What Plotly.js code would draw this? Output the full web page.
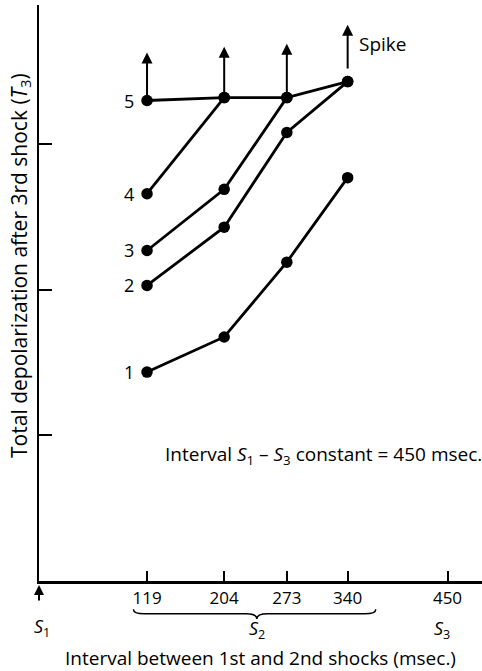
<!DOCTYPE html>
<html>
<head>
<meta charset="utf-8">
<script src="https://cdn.plot.ly/plotly-3.0.1.min.js"></script>
<style>html,body{margin:0;padding:0;background:#fff;}#chart{width:482px;height:671px;}</style>
</head>
<body>
<div id="chart"></div>
<script>
// Intervals between 1st and 2nd shocks (msec.)
const intervals = [119, 204, 273, 340];
const tickValues = [119, 204, 273, 340, 450];
const tickLabels = ["119", "204", "273", "340", "450"];
// Total depolarization after 3rd shock (T3), arbitrary units, for 5 stimulus strengths
const curve1 = [1.435, 1.676, 2.19, 2.77];
const curve2 = [2.03, 2.43, 3.08, 3.43];
const curve3 = [2.27, 2.69, 3.32];
const curve4 = [2.66, 3.32];
const curve5 = [3.30, 3.32, 3.32, 3.43];
const curveNames = ["1", "2", "3", "4", "5"];
// Spike arrows above curve 5
const spikeX = [119, 204, 273, 340];
const spikeBase = [3.30, 3.32, 3.32, 3.51];
const spikeTop = [3.63, 3.67, 3.69, 3.82];

const FONT = "Open Sans";
const curves = [curve1, curve2, curve3, curve4, curve5];
const traces = curves.map((c, i) => ({
  x: intervals.slice(0, c.length),
  y: c,
  name: curveNames[i],
  mode: "lines+markers",
  type: "scatter",
  line: {color: "#000", width: 2.8},
  marker: {color: "#000", size: 11.5},
  showlegend: false,
  hoverinfo: "x+y"
}));

const annotations = [];
curves.forEach((c, i) => {
  annotations.push({
    x: intervals[0], y: c[0], xref: "x", yref: "y",
    text: curveNames[i], showarrow: false,
    xanchor: "right", yanchor: "middle", xshift: -11,
    font: {family: FONT, size: 18, color: "#000"}
  });
});
spikeX.forEach((sx, i) => {
  annotations.push({
    x: sx, y: spikeTop[i], xref: "x", yref: "y",
    ax: sx, ay: spikeBase[i], axref: "x", ayref: "y",
    text: "", showarrow: true, arrowhead: 2, arrowsize: 1.1, arrowwidth: 2,
    arrowcolor: "#000", standoff: 0, startstandoff: 0
  });
});
annotations.push({
  x: 340, y: 3.69, xref: "x", yref: "y", text: "Spike", showarrow: false,
  xanchor: "left", yanchor: "middle", xshift: 9,
  font: {family: FONT, size: 19, color: "#000"}
});
annotations.push({
  x: 136.6, y: 0.219, xref: "x", yref: "paper",
  text: "Interval <i>S</i><sub>1</sub> – <i>S</i><sub>3</sub> constant = 450 msec.",
  showarrow: false, xanchor: "left", yanchor: "middle",
  font: {family: FONT, size: 19, color: "#000"}
});
// S1 arrow and labels under the axis
annotations.push({
  x: 0, y: -0.007, xref: "x", yref: "paper", ax: 0, ay: 17,
  text: "", showarrow: true, arrowhead: 2, arrowsize: 1, arrowwidth: 2, arrowcolor: "#000"
});
annotations.push({
  x: 0, y: -0.081, xref: "x", yref: "paper", xshift: 3,
  text: "<i>S</i><sub>1</sub>", showarrow: false, xanchor: "center", yanchor: "middle",
  font: {family: FONT, size: 18, color: "#000"}
});
annotations.push({
  x: 240, y: -0.084, xref: "x", yref: "paper",
  text: "<i>S</i><sub>2</sub>", showarrow: false, xanchor: "center", yanchor: "middle",
  font: {family: FONT, size: 18, color: "#000"}
});
annotations.push({
  x: 450, y: -0.084, xref: "x", yref: "paper", xshift: -6,
  text: "<i>S</i><sub>3</sub>", showarrow: false, xanchor: "center", yanchor: "middle",
  font: {family: FONT, size: 18, color: "#000"}
});
// Y axis title
annotations.push({
  x: -0.043, y: 0.5486, xref: "paper", yref: "paper",
  text: "Total depolarization after 3rd shock (<i>T</i><sub>3</sub>)",
  textangle: -90, showarrow: false, xanchor: "center", yanchor: "middle",
  font: {family: FONT, size: 21, color: "#000"}
});

const layout = {
  width: 482, height: 671,
  margin: {l: 39, r: 0, t: 5, b: 90},
  paper_bgcolor: "#fff", plot_bgcolor: "#fff",
  font: {family: FONT, size: 18, color: "#000"},
  xaxis: {
    range: [0, 488], showgrid: false, zeroline: false,
    showline: true, linecolor: "#000", linewidth: 2.5,
    tickmode: "array", tickvals: tickValues, ticktext: tickLabels,
    ticks: "inside", ticklen: 10, tickwidth: 2, tickcolor: "#000",
    tickfont: {family: FONT, size: 17, color: "#000"},
    title: {text: "Interval between 1st and 2nd shocks (msec.)", font: {family: FONT, size: 19, color: "#000"}, standoff: 44}
  },
  yaxis: {
    range: [0, 3.956], showgrid: false, zeroline: false,
    showline: true, linecolor: "#000", linewidth: 2.5,
    tickmode: "array", tickvals: [1, 2, 3], showticklabels: false,
    ticks: "inside", ticklen: 13, tickwidth: 2, tickcolor: "#000"
  },
  shapes: [{
    type: "path", xref: "x", yref: "paper",
    path: "M 104,-0.049 Q 104,-0.057 116,-0.057 L 228,-0.057 Q 240,-0.057 240,-0.066 Q 240,-0.057 252,-0.057 L 359,-0.057 Q 371,-0.057 371,-0.049",
    line: {color: "#000", width: 1.5}
  }],
  annotations: annotations
};

Plotly.newPlot("chart", traces, layout, {displayModeBar: false, staticPlot: true});
</script>
</body>
</html>
